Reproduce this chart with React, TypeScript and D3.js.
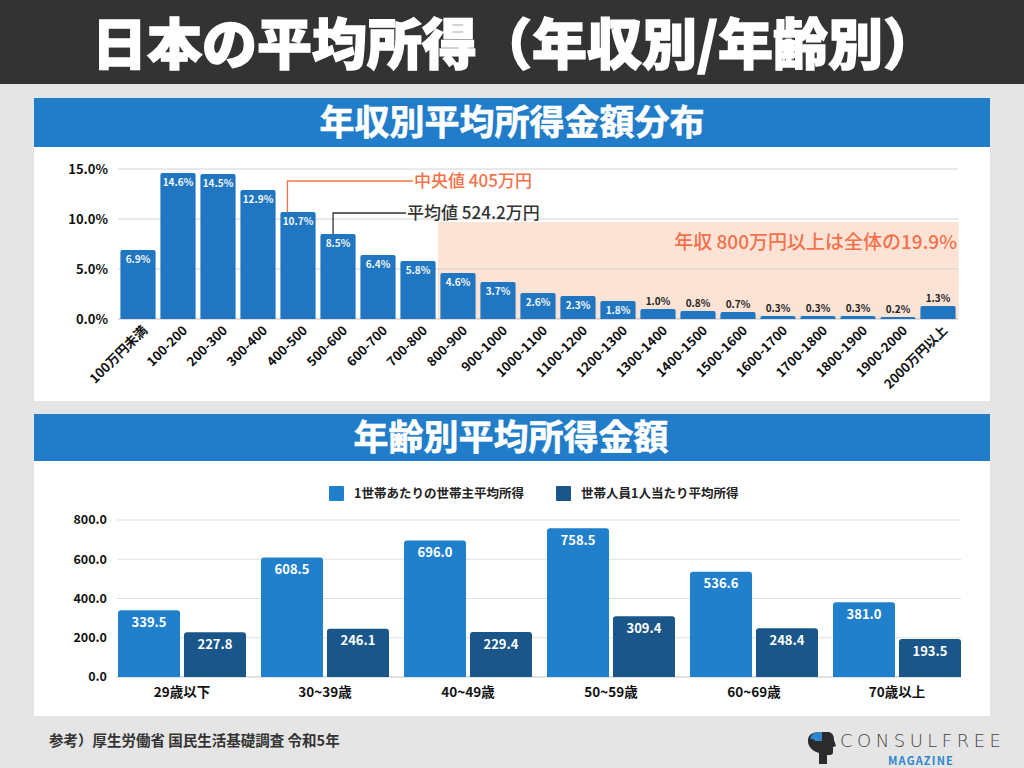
import React from 'react'
import * as d3 from 'd3'

// 年収別
const incomeBins = [
  '100万円未満', '100-200', '200-300', '300-400', '400-500', '500-600', '600-700',
  '700-800', '800-900', '900-1000', '1000-1100', '1100-1200', '1200-1300', '1300-1400',
  '1400-1500', '1500-1600', '1600-1700', '1700-1800', '1800-1900', '1900-2000', '2000万円以上',
]
const incomeShare = [6.9, 14.6, 14.5, 12.9, 10.7, 8.5, 6.4, 5.8, 4.6, 3.7, 2.6, 2.3, 1.8, 1.0, 0.8, 0.7, 0.3, 0.3, 0.3, 0.2, 1.3]
const shareTicks = [0, 5, 10, 15]

// 年齢別
const ageGroups = ['29歳以下', '30~39歳', '40~49歳', '50~59歳', '60~69歳', '70歳以上']
const seriesNames = ['1世帯あたりの世帯主平均所得', '世帯人員1人当たり平均所得']
const householdIncome = [339.5, 608.5, 696.0, 758.5, 536.6, 381.0]
const perPersonIncome = [227.8, 246.1, 229.4, 309.4, 248.4, 193.5]
const ageTicks = [0, 200, 400, 600, 800]

const FONT = '"Noto Sans CJK JP", "Noto Sans", sans-serif'
const BLUE = '#2176c1'
const HEAD_BLUE = '#217dca'
const LIGHT = '#2180cc'
const DARK = '#1a5689'
const CORAL = '#f4714a'

// bar with rounded top corners only
function topRounded(x: number, y: number, w: number, h: number, r: number) {
  const rr = Math.min(r, h, w / 2)
  return `M${x},${y + h}V${y + rr}Q${x},${y} ${x + rr},${y}H${x + w - rr}Q${x + w},${y} ${x + w},${y + rr}V${y + h}Z`
}

function App() {
  // chart 1 scales
  const x1 = d3.scaleBand<string>().domain(incomeBins).range([118, 958]).paddingInner(0.12).paddingOuter(0.06)
  const y1 = d3.scaleLinear().domain([0, 15]).range([319, 169])
  const fmtPct = (v: number) => d3.format('.1f')(v) + '%'

  // chart 2 scales
  const x2 = d3.scaleBand<string>().domain(ageGroups).range([118, 961]).paddingInner(0.105)
  const xs = d3.scaleBand<number>().domain([0, 1]).range([0, x2.bandwidth()]).paddingInner(0.06)
  const y2 = d3.scaleLinear().domain([0, 800]).range([677, 520])
  const fmt1 = d3.format('.1f')

  const medianX = (x1('400-500') as number) + x1.bandwidth() * 0.2
  const meanX = (x1('500-600') as number) + x1.bandwidth() * 0.36
  const shadeX0 = (x1('800-900') as number) - x1.step() * x1.paddingInner() / 2
  const shadeX1 = (x1('2000万円以上') as number) + x1.bandwidth() + 3

  const series = [householdIncome, perPersonIncome]
  const colors = [LIGHT, DARK]

  return (
    <svg width={1024} height={768} style={{position: 'absolute', left: 0, top: 0}} fontFamily={FONT}>
      <rect width={1024} height={768} fill="#e5e5e5" />
      <rect width={1024} height={84} fill="#333333" />
      <text x={515} y={64} textAnchor="middle" fill="#fff" fontSize={55} fontWeight={900}
        stroke="#fff" strokeWidth={1.4}>日本の平均所得（年収別/年齢別）</text>

      {/* panel 1 */}
      <rect x={34} y={98} width={956} height={303} fill="#fff" />
      <rect x={34} y={98} width={956} height={49} fill={HEAD_BLUE} />
      <text x={512} y={135} textAnchor="middle" fill="#fff" fontSize={35} fontWeight={700}
        stroke="#fff" strokeWidth={0.6}>年収別平均所得金額分布</text>

      <rect x={shadeX0} y={y1(9.7)} width={shadeX1 - shadeX0} height={y1(0) - y1(9.7)} fill="#fce3d6" />
      {shareTicks.map(t => (
        <g key={t}>
          <line x1={118} x2={958} y1={y1(t)} y2={y1(t)} stroke={t === 0 ? '#bdbdbd' : '#d3d3d3'} strokeWidth={1.2} />
          <text x={108} y={y1(t)} dy="0.35em" textAnchor="end" fontSize={13} fontWeight={700} fill="#111">{fmtPct(t)}</text>
        </g>
      ))}
      <text x={957} y={249} textAnchor="end" fontSize={19} fontWeight={500} fill={CORAL}>年収 800万円以上は全体の19.9%</text>

      {incomeBins.map((c, i) => {
        const v = incomeShare[i]
        const bx = x1(c) as number
        const inside = v >= 1.5
        return (
          <g key={c}>
            <path d={topRounded(bx, y1(v), x1.bandwidth(), y1(0) - y1(v), 2)} fill={BLUE} />
            <text x={bx + x1.bandwidth() / 2} y={inside ? y1(v) + 9 : y1(v) - 8} dy="0.35em" textAnchor="middle"
              fontSize={10} fontWeight={700} fill={inside ? '#f4f8fc' : '#222'}>{fmtPct(v)}</text>
            <text transform={`translate(${bx + x1.bandwidth() / 2 + 7},${328}) rotate(-45)`} textAnchor="end"
              dy="0.35em" fontSize={13} fontWeight={700} fill="#111">{c}</text>
          </g>
        )
      })}

      {/* median / mean call-outs */}
      <polyline points={`${medianX},${y1(10.7)} ${medianX},181 413,181`} fill="none" stroke={CORAL} strokeWidth={1.3} />
      <text x={414} y={181} dy="0.35em" fontSize={17} fontWeight={500} fill={CORAL}>中央値 405万円</text>
      <polyline points={`${meanX},${y1(8.5)} ${meanX},213 406,213`} fill="none" stroke="#333" strokeWidth={1.3} />
      <text x={407} y={213} dy="0.35em" fontSize={17} fontWeight={500} fill="#333">平均値 524.2万円</text>

      {/* panel 2 */}
      <rect x={34} y={414} width={956} height={302} fill="#fff" />
      <rect x={34} y={414} width={956} height={47} fill={HEAD_BLUE} />
      <text x={511} y={450} textAnchor="middle" fill="#fff" fontSize={35} fontWeight={700}
        stroke="#fff" strokeWidth={0.6}>年齢別平均所得金額</text>

      {seriesNames.map((s, i) => {
        const lx = i === 0 ? 329 : 556
        return (
          <g key={s}>
            <rect x={lx} y={486} width={15} height={15} fill={colors[i]} rx={1} />
            <text x={lx + 25} y={494} dy="0.35em" fontSize={12.5} fontWeight={700} fill="#222">{s}</text>
          </g>
        )
      })}

      {ageTicks.map(t => (
        <g key={t}>
          <line x1={117} x2={961} y1={y2(t)} y2={y2(t)} stroke={t === 0 ? '#c4c4c4' : '#e0e0e0'} strokeWidth={1.2} />
          <text x={107} y={y2(t)} dy="0.35em" textAnchor="end" fontSize={12.5} fontWeight={700} fill="#111">{fmt1(t)}</text>
        </g>
      ))}

      {ageGroups.map((g, gi) => {
        const gx = x2(g) as number
        return (
          <g key={g}>
            {series.map((vals, si) => {
              const v = vals[gi]
              const bx = gx + (xs(si) as number)
              return (
                <g key={si}>
                  <path d={topRounded(bx, y2(v), xs.bandwidth(), y2(0) - y2(v), 3)} fill={colors[si]} />
                  <text x={bx + xs.bandwidth() / 2} y={y2(v) + 12} dy="0.35em" textAnchor="middle"
                    fontSize={13} fontWeight={700} fill="#fff">{fmt1(v)}</text>
                </g>
              )
            })}
            <text x={gx + x2.bandwidth() / 2} y={692} dy="0.35em" textAnchor="middle" fontSize={13.5}
              fontWeight={700} fill="#111">{g}</text>
          </g>
        )
      })}

      {/* footer */}
      <text x={49} y={741} dy="0.35em" fontSize={14.5} fontWeight={700} fill="#333">参考）厚生労働省 国民生活基礎調査 令和5年</text>
      <g>
        <path d="M819,764 V753 Q807,749 808,739 Q809,732 820,732 H829 Q834,733 834,740 L836,746 L833,747 V752 Q833,755 830,755 H827 V764 Z" fill="#2b2b2b" />
        <path d="M810,739 Q811,732 820,732 H822 V741 H815 Q813,738 810,739 Z" fill="#2e86cf" />
        <text x={840} y={747} fontSize={18} fontWeight={200} fill="#444" letterSpacing={4.5}
          fontFamily='"DejaVu Sans", sans-serif'>CONSULFREE</text>
        <text x={921} y={761} dy="0.35em" textAnchor="middle" fontSize={11} fontWeight={700} fill="#2e86cf"
          letterSpacing={1.2}>MAGAZINE</text>
      </g>
    </svg>
  )
}

export default App
